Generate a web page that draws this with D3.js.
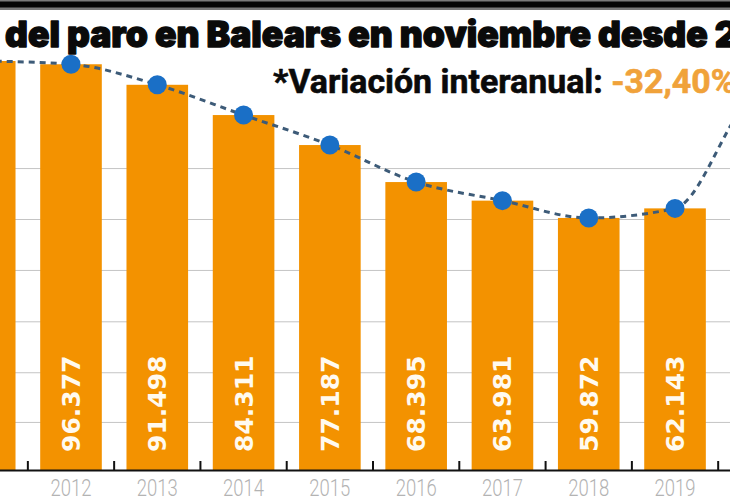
<!DOCTYPE html>
<head>
  <meta charset="utf-8">
  <title>Paro en Balears</title>
  <style>
      body {
          margin: 0;
          background-color: #fff;
      }
      svg {
          display: block;
      }
  </style>
  <script src="https://d3js.org/d3.v7.js"></script>
</head>
<body>

<div id="chart"></div>

<script>
    // datos: paro registrado en noviembre (2011 y 2020/2021 quedan fuera del recorte)
    const years = ["2011", "2012", "2013", "2014", "2015", "2016", "2017", "2018", "2019", "2020", "2021"];
    const paro = [97150, 96377, 91498, 84311, 77187, 68395, 63981, 59872, 62143, 89300, 60400];
    const gridValues = [11300, 23100, 35200, 47400, 59500, 71600];

    const titleText = "del paro en Balears en noviembre desde 2011";
    const subtitleText = "*Variación interanual:";
    const variationText = "-32,40%";

    const width = 730;
    const height = 500;

    const orange = "#f39200";
    const blue = "#1a6fc6";

    const svg = d3.select("#chart")
        .append("svg")
        .attr("width", width)
        .attr("height", height);

    svg.append("rect")
        .attr("width", width)
        .attr("height", height)
        .attr("fill", "#fff");

    // escalas
    const step = 86.29;
    const x0 = 71 - 1.5 * step;
    const x = d3.scaleBand()
        .domain(years)
        .range([x0, x0 + step * years.length])
        .paddingInner(0.286)
        .paddingOuter(0.143);

    const y = d3.scaleLinear()
        .domain([0, 100000])
        .range([470, 49]);

    const cx = d => x(d) + x.bandwidth() / 2;
    // solo se rotulan los años cuya barra cae dentro del recorte
    const inView = d => cx(d) > 0 && cx(d) < width;

    // rejilla
    svg.append("g")
        .selectAll("line")
        .data(gridValues)
        .join("line")
        .attr("x1", 0)
        .attr("x2", width)
        .attr("y1", d => y(d))
        .attr("y2", d => y(d))
        .attr("stroke", "#c4c4c4")
        .attr("stroke-width", 1);

    // barras
    svg.append("g")
        .selectAll("rect")
        .data(years)
        .join("rect")
        .attr("x", d => x(d))
        .attr("y", (d, i) => y(paro[i]))
        .attr("width", x.bandwidth())
        .attr("height", (d, i) => y(0) - y(paro[i]))
        .attr("fill", orange);

    // eje x
    const xAxis = svg.append("g")
        .attr("transform", `translate(0, ${y(0)})`)
        .call(d3.axisBottom(x).tickSize(0).tickValues(years.filter(inView)));
    xAxis.select(".domain")
        .attr("stroke", "#111")
        .attr("stroke-width", 2);
    xAxis.selectAll("text")
        .attr("y", 25.5)
        .attr("dy", 0)
        .attr("fill", "#b3b3b3")
        .style("font-family", "Roboto, 'DejaVu Sans', sans-serif")
        .style("font-weight", 300)
        .style("font-size", "24.5px")
        .attr("textLength", 41)
        .attr("lengthAdjust", "spacingAndGlyphs");

    // marcas entre barras
    const gap = step - x.bandwidth();
    svg.append("g")
        .selectAll("line")
        .data(years)
        .join("line")
        .attr("x1", d => x(d) - gap / 2)
        .attr("x2", d => x(d) - gap / 2)
        .attr("y1", y(0) - 9)
        .attr("y2", y(0))
        .attr("stroke", "#111")
        .attr("stroke-width", 2);

    // etiquetas de valor
    const es = d3.formatLocale({decimal: ",", thousands: ".", grouping: [3], currency: ["", " €"]});
    const fmt = es.format(",d");
    svg.append("g")
        .selectAll("text")
        .data(years.filter(inView))
        .join("text")
        .attr("transform", d => `translate(${cx(d) + 9}, 452) rotate(-90)`)
        .attr("text-anchor", "start")
        .attr("fill", "#fffaf0")
        .style("font-family", "'DejaVu Sans', sans-serif")
        .style("font-weight", "bold")
        .style("font-size", "25px")
        .text(d => fmt(paro[years.indexOf(d)]));

    // linea discontinua
    const line = d3.line()
        .x(d => cx(d))
        .y((d, i) => y(paro[i]))
        .curve(d3.curveMonotoneX);

    svg.append("path")
        .datum(years)
        .attr("d", line)
        .attr("fill", "none")
        .attr("stroke", "#3d5b78")
        .attr("stroke-width", 3)
        .attr("stroke-dasharray", "6,5");

    svg.append("g")
        .selectAll("circle")
        .data(years)
        .join("circle")
        .attr("cx", d => cx(d))
        .attr("cy", (d, i) => y(paro[i]))
        .attr("r", 9.5)
        .attr("fill", blue);

    // banda superior
    svg.append("rect")
        .attr("x", 0)
        .attr("y", 0)
        .attr("width", width)
        .attr("height", 10)
        .attr("fill", "#7a7a7a");
    svg.append("rect")
        .attr("x", 0)
        .attr("y", 1.5)
        .attr("width", width)
        .attr("height", 6)
        .attr("fill", "#050505");

    // titulo
    const title = svg.append("text")
        .attr("x", 5)
        .attr("y", 47)
        .attr("fill", "#0a0a0a")
        .attr("stroke", "#0a0a0a")
        .attr("stroke-width", 1.3)
        .attr("stroke-linejoin", "round")
        .style("font-family", "Inter, 'DejaVu Sans', sans-serif")
        .style("font-weight", 900)
        .style("font-size", "26px")
        .text(titleText);
    // ajustar tamaño: "del ... desde " ocupa unos 712 px
    const titleWidth = title.node().getSubStringLength(0, titleText.indexOf("2011"));
    title.style("font-size", (26 * 710 / titleWidth) + "px");

    // subtitulo
    const sub = svg.append("text")
        .attr("x", 273)
        .attr("y", 93)
        .attr("fill", "#0a0a0a")
        .attr("stroke-linejoin", "round")
        .style("font-family", "Roboto, 'DejaVu Sans', sans-serif")
        .style("font-weight", 700)
        .style("font-size", "28px");
    sub.append("tspan")
        .attr("stroke", "#0a0a0a")
        .attr("stroke-width", 0.6)
        .text(subtitleText + " ");
    sub.append("tspan")
        .attr("fill", "#f0a23a")
        .attr("stroke", "#f0a23a")
        .attr("stroke-width", 0.6)
        .text(variationText);
    const subWidth = sub.node().getSubStringLength(0, subtitleText.length);
    sub.style("font-size", (28 * 330 / subWidth) + "px");
</script>

</body>
